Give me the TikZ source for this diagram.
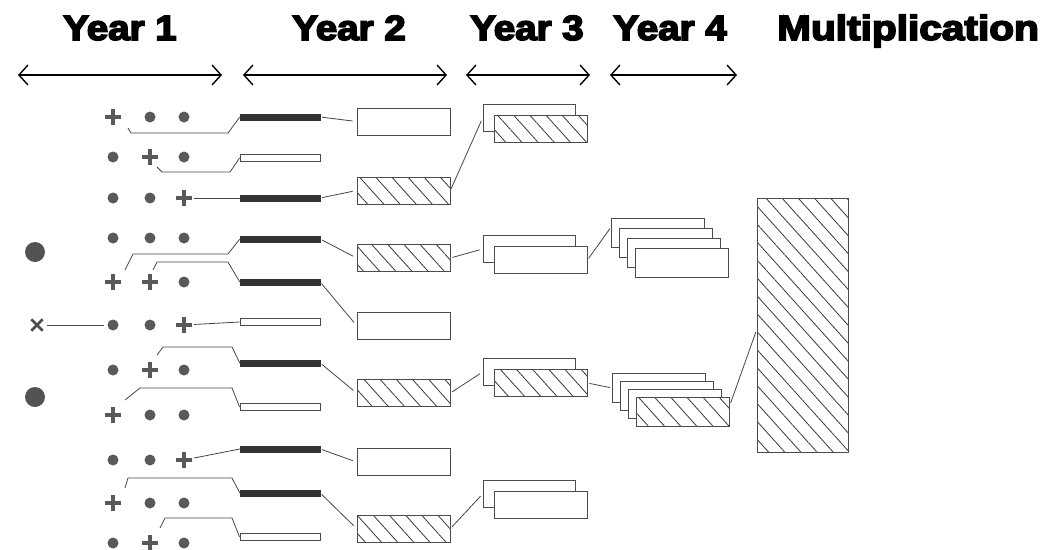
\documentclass[tikz,border=0pt]{standalone}
\usepackage{fontspec}
\usepackage{tikz}
\usetikzlibrary{positioning, arrows.meta, patterns.meta}

\newfontfamily\headfont{Liberation Sans}[BoldFeatures={FakeBold=4.5}]
\newcommand\headtext[2][1.1]{\scalebox{#1}[1]{#2}}

\begin{document}
\begin{tikzpicture}[
        x = 1pt, y = -1pt,
        yearhead/.style = {
            anchor = base,
            inner sep = 0pt,
            font = \headfont\bfseries\fontsize{35}{40}\selectfont
        },
        span/.style = {
            <->,
            >={Straight Barb[length=9pt, width=20pt, line width=1.4pt]},
            line width = 1.4pt
        },
        link/.style = {draw = gray!55!black, line width = 0.8pt},
        markline/.style = {draw = gray!70!black, line width = 4.5pt},
        plusmark/.style = {
            minimum size = 16pt, inner sep = 0pt,
            append after command = {
                (\tikzlastnode.north) edge[markline] (\tikzlastnode.south)
                (\tikzlastnode.west) edge[markline] (\tikzlastnode.east)
            }
        },
        crossmark/.style = {
            minimum size = 11pt, inner sep = 0pt,
            append after command = {
                (\tikzlastnode.north west) edge[markline, line width = 2.6pt, gray!60!black] (\tikzlastnode.south east)
                (\tikzlastnode.south west) edge[markline, line width = 2.6pt, gray!60!black] (\tikzlastnode.north east)
            }
        },
        dotmark/.style = {
            circle, fill = gray!70!black,
            minimum size = 11pt, inner sep = 0pt
        },
        parentdot/.style = {
            circle, fill = gray!65!black,
            minimum size = 20pt, inner sep = 0pt
        },
        darkbar/.style = {
            rectangle, draw = gray!40!black, fill = gray!40!black,
            minimum width = 80pt, minimum height = 5.5pt, inner sep = 0pt
        },
        openbar/.style = {
            rectangle, draw = gray!60!black, fill = white, line width = 0.8pt,
            minimum width = 80pt, minimum height = 7pt, inner sep = 0pt
        },
        plate/.style = {
            rectangle, draw = gray!60!black, fill = white, line width = 0.9pt,
            minimum width = 93pt, minimum height = 27pt, inner sep = 0pt
        },
        hatched/.style = {
            preaction = {fill = white},
            pattern = {Lines[angle=-48, distance=12pt, line width=0.8pt]},
            pattern color = gray!45!black
        }
    ]
    \useasboundingbox (0,0) rectangle (1055,549);

    % headings
    \node[yearhead] (h1) at (120,40) {\headtext{Year 1}};
    \node[yearhead] (h2) at (349,40) {\headtext{Year 2}};
    \node[yearhead] (h3) at (527,40) {\headtext{Year 3}};
    \node[yearhead] (h4) at (670,40) {\headtext{Year 4}};
    \node[yearhead] (h5) at (908,40) {\headtext[1.16]{Multiplication}};

    \coordinate (s1w) at (18,75);  \coordinate (s1e) at (222,75);
    \coordinate (s2w) at (243,75); \coordinate (s2e) at (447,75);
    \coordinate (s3w) at (466,75); \coordinate (s3e) at (590,75);
    \coordinate (s4w) at (610,75); \coordinate (s4e) at (737,75);
    \draw[span] (s1w) -- (s1e);
    \draw[span] (s2w) -- (s2e);
    \draw[span] (s3w) -- (s3e);
    \draw[span] (s4w) -- (s4e);

    % parents
    \node[parentdot] (pa) at (35,252) {};
    \node[crossmark] (px) at (37,325) {};
    \node[parentdot] (pb) at (35,397) {};

    % year 1 crosses
    \node[plusmark] (r1a) at (113,117) {};  \node[dotmark] (r1b) at (150,117) {};  \node[dotmark] (r1c) at (184,117) {};
    \node[dotmark] (r2a) at (113,157) {};   \node[plusmark] (r2b) at (150,157) {}; \node[dotmark] (r2c) at (184,157) {};
    \node[dotmark] (r3a) at (113,198) {};   \node[dotmark] (r3b) at (150,198) {};  \node[plusmark] (r3c) at (184,198) {};
    \node[dotmark] (r4a) at (113,238) {};   \node[dotmark] (r4b) at (150,238) {};  \node[dotmark] (r4c) at (184,238) {};
    \node[plusmark] (r5a) at (113,282) {};  \node[plusmark] (r5b) at (150,282) {}; \node[dotmark] (r5c) at (184,282) {};
    \node[dotmark] (r6a) at (113,325) {};   \node[dotmark] (r6b) at (150,325) {};  \node[plusmark] (r6c) at (184,325) {};
    \node[dotmark] (r7a) at (113,370) {};   \node[plusmark] (r7b) at (150,370) {}; \node[dotmark] (r7c) at (184,370) {};
    \node[plusmark] (r8a) at (113,415) {};  \node[dotmark] (r8b) at (150,415) {};  \node[dotmark] (r8c) at (184,415) {};
    \node[dotmark] (r9a) at (113,460) {};   \node[dotmark] (r9b) at (150,460) {};  \node[plusmark] (r9c) at (184,460) {};
    \node[plusmark] (r10a) at (113,503) {}; \node[dotmark] (r10b) at (150,503) {}; \node[dotmark] (r10c) at (184,503) {};
    \node[dotmark] (r11a) at (113,543) {};  \node[plusmark] (r11b) at (150,543) {};\node[dotmark] (r11c) at (184,543) {};

    \draw[link, shorten <=4pt, shorten >=3pt] (px) -- (r6a);

    % selected lines
    \node[darkbar] (b1) at (280,117) {};
    \node[openbar] (b2) at (280,158) {};
    \node[darkbar] (b3) at (280,198) {};
    \node[darkbar] (b4) at (280,239) {};
    \node[darkbar] (b5) at (280,282) {};
    \node[openbar] (b6) at (280,322) {};
    \node[darkbar] (b7) at (280,363) {};
    \node[openbar] (b8) at (280,407) {};
    \node[darkbar] (b9) at (280,449) {};
    \node[darkbar] (b10) at (280,493) {};
    \node[openbar] (b11) at (280,537) {};

    \draw[link] ([shift={(15,11)}]r1a.center) -- ++(3,5) -- ++(97,0) -- (b1.west);
    \draw[link] ([shift={(7,10)}]r2b.center) -- ++(5,5) -- ++(68,0) -- (b2.west);
    \draw[link, shorten <=2pt] (r3c) -- (b3.west);
    \draw[link] ([shift={(12,-12)}]r5a.center) -- ++(8,-16) -- ++(95,0) -- (b4.west);
    \draw[link] ([shift={(3,-12)}]r5b.center) -- ++(4,-8) -- ++(71,0) -- (b5.west);
    \draw[link, shorten <=2pt] (r6c) -- (b6.west);
    \draw[link] ([shift={(7,-15)}]r7b.center) -- ++(6,-8) -- ++(69,0) -- (b7.west);
    \draw[link] ([shift={(12,-15)}]r8a.center) -- ++(15,-12) -- ++(92,0) -- (b8.west);
    \draw[link, shorten <=2pt] (r9c) -- (b9.west);
    \draw[link] ([shift={(12,-15)}]r10a.center) -- ++(3,-10) -- ++(104,0) -- (b10.west);
    \draw[link] ([shift={(10,-15)}]r11b.center) -- ++(5,-10) -- ++(67,0) -- (b11.west);

    % year 2
    \node[plate] (y2a) at (403.5,121.5) {};
    \node[plate, hatched] (y2b) at (403.5,190.5) {};
    \node[plate, hatched] (y2c) at (403.5,258) {};
    \node[plate] (y2d) at (403.5,325.5) {};
    \node[plate, hatched] (y2e) at (403.5,393) {};
    \node[plate] (y2f) at (403.5,462) {};
    \node[plate, hatched] (y2g) at (403.5,528.5) {};

    \draw[link, shorten <=2pt, shorten >=4pt] (b1.east) -- (y2a.west);
    \draw[link, shorten <=2pt, shorten >=4pt] (b3.east) -- (y2b.west);
    \draw[link, shorten <=2pt, shorten >=4pt] (b4.east) -- (y2c.west);
    \draw[link, shorten <=2pt, shorten >=4pt] (b5.east) -- (y2d.west);
    \draw[link, shorten <=2pt, shorten >=4pt] (b7.east) -- (y2e.west);
    \draw[link, shorten <=2pt, shorten >=4pt] (b9.east) -- (y2f.west);
    \draw[link, shorten <=2pt, shorten >=4pt] (b10.east) -- (y2g.west);

    % year 3
    \node[plate, minimum width=92pt] (p1back) at (529,118) {};
    \node[plate, hatched] (p1front) at (540.5,129) {};
    \node[plate, minimum width=92pt] (p2back) at (529,249) {};
    \node[plate] (p2front) at (540.5,260) {};
    \node[plate, minimum width=92pt] (p3back) at (529,372) {};
    \node[plate, hatched] (p3front) at (540.5,383) {};
    \node[plate, minimum width=92pt] (p4back) at (529,494) {};
    \node[plate] (p4front) at (540.5,505) {};

    \draw[link, shorten <=2pt, shorten >=3pt] (y2b.east) -- (p1back.west);
    \draw[link, shorten <=2pt, shorten >=3pt] (y2c.east) -- (p2back.west);
    \draw[link, shorten <=2pt, shorten >=3pt] (y2e.east) -- (p3back.west);
    \draw[link, shorten <=2pt, shorten >=3pt] (y2g.east) -- (p4back.west);

    % year 4
    \node[plate, minimum height=29pt] (q1) at (658,233) {};
    \node[plate, minimum height=29pt] (q2) at (666,243) {};
    \node[plate, minimum height=29pt] (q3) at (674,253) {};
    \node[plate, minimum height=29pt] (q4) at (682,263) {};
    \node[plate, minimum height=29pt] (u1) at (659,388) {};
    \node[plate, minimum height=29pt] (u2) at (667,396) {};
    \node[plate, minimum height=29pt] (u3) at (675,404) {};
    \node[plate, hatched, minimum height=29pt] (u4) at (683,412) {};

    \draw[link, shorten <=2pt, shorten >=2pt] (p2front.east) -- ([yshift=6pt]q1.west);
    \draw[link, shorten <=2pt, shorten >=2pt] (p3front.east) -- (u1.west);

    % multiplication
    \node[plate, hatched, minimum width=91pt, minimum height=254pt] (mult) at (802.5,325) {};
    \draw[link, shorten <=2pt, shorten >=2pt] ([yshift=7pt]u4.east) -- ([yshift=-5pt]mult.west);
\end{tikzpicture}
\end{document}
